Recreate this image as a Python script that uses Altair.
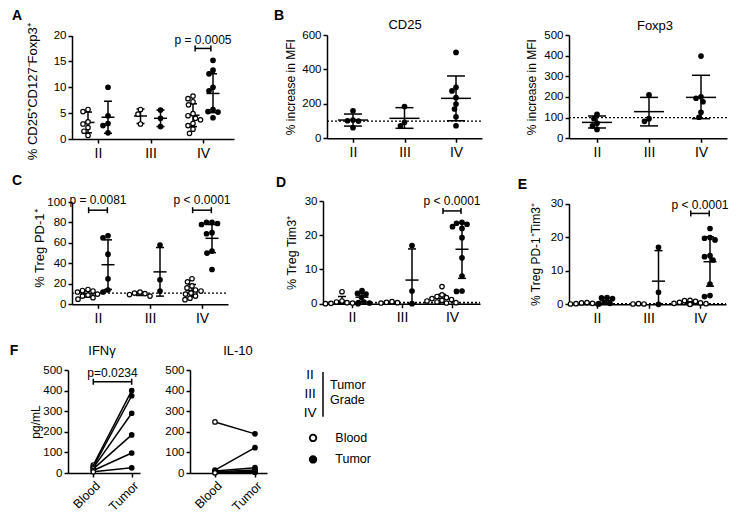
import altair as alt
import pandas as pd

# ---------------- data ----------------
GRADES = ["II", "III", "IV"]

# Panel A: % CD25+CD127-Foxp3+ (Blood open, Tumor filled)
A_BLOOD = [[5.7, 5.3, 3.3, 2.9, 2.2, 1.5, 0.7],
           [5.7, 4.8, 2.9],
           [8.3, 7.8, 7.2, 6.6, 4.9, 4.5, 4.0, 3.7, 3.0, 2.6, 1.9, 1.1]]
A_TUMOR = [[10.0, 4.5, 3.0, 2.6, 1.2],
           [5.6, 4.0, 2.4],
           [15.2, 13.3, 12.6, 10.0, 9.3, 5.7, 5.3, 5.2, 4.1]]
A_BLOOD_MEAN = [3.2, 4.45, 4.6]
A_BLOOD_LO = [1.2, 3.0, 2.4]
A_BLOOD_HI = [5.2, 5.8, 6.8]
A_TUMOR_MEAN = [4.2, 4.0, 8.8]
A_TUMOR_LO = [1.1, 2.4, 5.1]
A_TUMOR_HI = [7.3, 5.6, 12.6]

# Panel B: % increase in MFI
CD25_VALS = [[160, 106, 102, 100, 62], [184, 93, 72],
             [499, 296, 275, 236, 199, 170, 125, 73]]
CD25_MEAN = [106, 116, 232]
CD25_LO = [71, 58, 102]
CD25_HI = [141, 178, 362]
FOXP3_VALS = [[116, 95, 73, 60, 43], [210, 95, 82],
              [398, 201, 194, 177, 126, 102]]
FOXP3_MEAN = [77, 129, 198]
FOXP3_LO = [50, 60, 95]
FOXP3_HI = [108, 198, 305]

# Panel C: % Treg PD-1+
C_BLOOD = [[14.5, 13.5, 13.0, 12.0, 10.0, 9.0, 8.0, 6.5, 5.0],
           [12.0, 11.0, 10.5, 9.5, 8.0],
           [25.0, 22.0, 18.0, 16.0, 14.0, 13.0, 11.0, 10.0, 8.0, 6.0, 4.5]]
C_TUMOR = [[67, 65, 49, 25, 14, 12], [58, 24, 13],
           [80, 80, 79, 78, 70, 69, 52, 50, 34]]
C_BLOOD_MEAN = [10.1, 10.2, 13.4]
C_BLOOD_LO = [7.0, 8.6, 7.4]
C_BLOOD_HI = [13.2, 11.8, 19.4]
C_TUMOR_MEAN = [38.7, 31.7, 64.5]
C_TUMOR_LO = [14.5, 8.0, 50.5]
C_TUMOR_HI = [63.0, 55.5, 78.0]

# Panel D: % Treg Tim3+
D_BLOOD = [[3.5, 0.8, 0.5, 0.3, 0.2, 0.1, 0.0, 0.0], [0.6, 0.4, 0.3, 0.2],
           [5.0, 2.6, 2.1, 1.8, 1.5, 1.2, 1.0, 0.8, 0.5, 0.3, 0.2]]
D_TUMOR = [[3.8, 3.0, 2.8, 1.9, 0.5, 0.3, 0.2], [17.0, 3.7, 0.0],
           [23.8, 23.5, 23.2, 22.5, 22.0, 19.3, 13.4, 8.1, 3.7, 3.6]]
D_BLOOD_MEAN = [0.7, 0.4, 1.5]
D_BLOOD_LO = [0.0, 0.2, 0.3]
D_BLOOD_HI = [2.1, 0.6, 2.7]
D_TUMOR_MEAN = [1.9, 6.9, 15.9]
D_TUMOR_LO = [0.6, 0.0, 7.4]
D_TUMOR_HI = [3.1, 16.0, 23.5]

# Panel E: % Treg PD-1+Tim3+
E_BLOOD = [[0.5, 0.4, 0.3, 0.2, 0.1, 0.1], [0.2, 0.1, 0.1],
           [1.2, 1.1, 0.9, 0.6, 0.4, 0.3, 0.2, 0.1, 0.1, 0.0]]
E_TUMOR = [[2.0, 1.9, 1.7, 0.6, 0.3, 0.2], [17.0, 3.6, 0.0],
           [22.6, 19.9, 19.7, 19.2, 14.5, 14.2, 13.2, 6.0, 2.6, 2.3]]
E_BLOOD_MEAN = [0.27, 0.13, 0.49]
E_BLOOD_LO = [0.1, 0.05, 0.1]
E_BLOOD_HI = [0.44, 0.2, 0.9]
E_TUMOR_MEAN = [1.1, 6.9, 12.7]
E_TUMOR_LO = [0.3, 0.0, 5.4]
E_TUMOR_HI = [1.9, 16.0, 20.1]

# Panel F: pg/mL, paired Blood -> Tumor
IFNG_BLOOD = [38, 30, 25, 20, 12, 6]
IFNG_TUMOR = [400, 375, 290, 185, 97, 25]
IL10_BLOOD = [248, 14, 10, 6, 3, 1]
IL10_TUMOR = [190, 123, 26, 14, 4, 8]

# ---------------- layout ----------------
PAD_TOP, PAD_BOTTOM = 6, 6
PAGE_X, PAGE_Y = 8, 8 + PAD_TOP
W, H = 730, 520 - 16 - PAD_TOP
FONT = "Liberation Sans"
FILL_SCALE = alt.Scale(domain=["Blood", "Tumor"], range=["white", "black"])


def cxp(px):
    return px - PAGE_X


def cyp(py):
    return py - PAGE_Y


GEOM = {
    "A": dict(left=72, right=234, c1=98, c3=203, y0=139, ytop=35.5, ymax=20),
    "CD25": dict(left=327, right=482, c1=353, c3=456, y0=138.3, ytop=35, ymax=600),
    "FOXP3": dict(left=569, right=727, c1=597, c3=701, y0=138.3, ytop=35, ymax=500),
    "C": dict(left=72, right=228, c1=98, c3=202, y0=304.3, ytop=202, ymax=100),
    "D": dict(left=323, right=480, c1=352, c3=452, y0=303.7, ytop=201, ymax=30),
    "E": dict(left=569, right=726, c1=597, c3=700, y0=304.3, ytop=203.7, ymax=30),
}


def swarm(values, ypu, diam=5.2, step=0.5):
    order = sorted(range(len(values)), key=lambda i: -values[i])
    cands = sorted([k * step for k in range(-40, 41)], key=lambda v: (abs(v), v))
    placed, offs = [], [0.0] * len(values)
    for i in order:
        yp = values[i] * ypu
        chosen = 0.0
        for c in cands:
            if all((c - x) ** 2 + (yp - y) ** 2 >= diam ** 2 for x, y in placed):
                chosen = c
                break
        placed.append((chosen, yp))
        offs[i] = chosen
    return offs


def text_layer(df, xs, ys, **kw):
    return alt.Chart(df).mark_text(color="black", **kw).encode(
        x=alt.X("x:Q", scale=xs, axis=None),
        y=alt.Y("y:Q", scale=ys, axis=None),
        text="t:N")


def y_axis(left, y0, ytop, values, title, title_x, title_size=12, title_dy=0):
    return alt.Axis(orient="left", offset=-cxp(left), values=values, title=title,
                    titleX=title_x, titleY=(cyp(y0) + cyp(ytop)) / 2 + title_dy,
                    titleBaseline="bottom", titleAlign="center", titleAngle=270,
                    titleFontSize=title_size, titleLimit=400, format="d")


def scatter_panel(g, series, yticks, ytitle, title_x, title_size=12, title_dy=0,
                  dotted=None, dotted_w=1.3, pvals=(), letter=None, head=None,
                  mean_w=13, cap_w=8, pt_size=20, legend=None):
    unit = (g["c3"] - g["c1"]) / 2.0
    d0 = 1 + (g["left"] - g["c1"]) / unit
    d1 = 1 + (g["right"] - g["c1"]) / unit
    xs = alt.Scale(domain=[d0, d1], range=[cxp(g["left"]), cxp(g["right"])],
                   nice=False, zero=False)
    ys = alt.Scale(domain=[0, g["ymax"]], range=[cyp(g["y0"]), cyp(g["ytop"])],
                   nice=False, zero=False)
    ypu = (g["y0"] - g["ytop"]) / g["ymax"]

    def px2x(px):
        return 1 + (px - g["c1"]) / unit

    def py2y(py):
        return (g["y0"] - py) / ypu

    pts, bars, caps = [], [], []
    for typ, shift, vals, mean, lo, hi in series:
        for gi in range(3):
            c = gi + 1 + shift / unit
            offs = swarm(vals[gi], ypu)
            for v, o in zip(vals[gi], offs):
                pts.append({"x": c + o / unit, "y": v, "type": typ})
            bars.append({"x": c, "mean": mean[gi], "lo": lo[gi], "hi": hi[gi]})
            caps.append({"x": c, "v": lo[gi]})
            caps.append({"x": c, "v": hi[gi]})
    pts, bars, caps = pd.DataFrame(pts), pd.DataFrame(bars), pd.DataFrame(caps)

    xaxis = alt.Axis(orient="bottom", offset=cyp(g["y0"]) - H, values=[1, 2, 3],
                     labelExpr="datum.value == 1 ? 'II' : datum.value == 2 ? 'III' : 'IV'",
                     labelFontSize=14, labelPadding=3, title=None)
    yaxis = y_axis(g["left"], g["y0"], g["ytop"], yticks, ytitle, title_x,
                   title_size, title_dy)
    layers = [
        alt.Chart(bars).mark_rule(color="black", strokeWidth=1.5).encode(
            x=alt.X("x:Q", scale=xs, axis=xaxis),
            y=alt.Y("lo:Q", scale=ys, axis=yaxis),
            y2="hi:Q"),
        alt.Chart(caps).mark_tick(orient="horizontal", size=cap_w, thickness=1.5,
                                  color="black", opacity=1).encode(
            x=alt.X("x:Q", scale=xs, axis=None), y=alt.Y("v:Q", scale=ys, axis=None)),
        alt.Chart(bars).mark_tick(orient="horizontal", size=mean_w, thickness=1.5,
                                  color="black", opacity=1).encode(
            x=alt.X("x:Q", scale=xs, axis=None), y=alt.Y("mean:Q", scale=ys, axis=None)),
    ]
    if dotted is not None:
        dd = pd.DataFrame([{"x": d0, "x2": d1, "y": dotted}])
        layers.append(alt.Chart(dd).mark_rule(color="black", strokeWidth=dotted_w,
                                              strokeDash=[2, 2]).encode(
            x=alt.X("x:Q", scale=xs, axis=None), x2="x2:Q",
            y=alt.Y("y:Q", scale=ys, axis=None)))
    layers.append(alt.Chart(pts).mark_point(filled=True, size=pt_size, stroke="black",
                                            strokeWidth=1.2, opacity=1).encode(
        x=alt.X("x:Q", scale=xs, axis=None),
        y=alt.Y("y:Q", scale=ys, axis=None),
        fill=alt.Fill("type:N", scale=FILL_SCALE, legend=legend)))
    for txt, gi, half, yb, yt in pvals:
        c = gi + 1
        br = pd.DataFrame([{"x": c - half, "x2": c + half, "y": yb}])
        ends = pd.DataFrame([{"x": c - half, "y": yb}, {"x": c + half, "y": yb}])
        layers.append(alt.Chart(br).mark_rule(color="black", strokeWidth=1.5).encode(
            x=alt.X("x:Q", scale=xs, axis=None), x2="x2:Q",
            y=alt.Y("y:Q", scale=ys, axis=None)))
        layers.append(alt.Chart(ends).mark_tick(orient="vertical", size=6, thickness=1.5,
                                                color="black", opacity=1).encode(
            x=alt.X("x:Q", scale=xs, axis=None), y=alt.Y("y:Q", scale=ys, axis=None)))
        layers.append(text_layer(pd.DataFrame([{"x": c, "y": yt, "t": txt}]), xs, ys,
                                 fontSize=12, align="center", baseline="middle"))
    if letter is not None:
        t, px, py = letter
        layers.append(text_layer(pd.DataFrame([{"x": px2x(px), "y": py2y(py), "t": t}]),
                                 xs, ys, fontSize=14, fontWeight="bold",
                                 align="center", baseline="middle"))
    if head is not None:
        t, px, py = head
        layers.append(text_layer(pd.DataFrame([{"x": px2x(px), "y": py2y(py), "t": t}]),
                                 xs, ys, fontSize=13, align="center", baseline="middle"))
    return layers


def paired_panel(g, blood, tumor, ytitle=None, title_x=-26, pval=None, letter=None,
                 head=None):
    unit = g["xt"] - g["xb"]
    d0 = (g["left"] - g["xb"]) / unit
    d1 = (g["right"] - g["xb"]) / unit
    xs = alt.Scale(domain=[d0, d1], range=[cxp(g["left"]), cxp(g["right"])],
                   nice=False, zero=False)
    ys = alt.Scale(domain=[0, g["ymax"]], range=[cyp(g["y0"]), cyp(g["ytop"])],
                   nice=False, zero=False)
    ypu = (g["y0"] - g["ytop"]) / g["ymax"]

    def px2x(px):
        return (px - g["xb"]) / unit

    def py2y(py):
        return (g["y0"] - py) / ypu

    rows = []
    for i, (b, t) in enumerate(zip(blood, tumor)):
        rows.append({"pair": i, "x": 0, "y": b, "type": "Blood"})
        rows.append({"pair": i, "x": 1, "y": t, "type": "Tumor"})
    df = pd.DataFrame(rows)
    xaxis = alt.Axis(orient="bottom", offset=cyp(g["y0"]) - H, values=[0, 1],
                     labelExpr="datum.value == 0 ? 'Blood' : 'Tumor'",
                     labelAngle=315, labelAlign="right", labelBaseline="top",
                     labelFontSize=12.5, labelPadding=2, title=None)
    yaxis = y_axis(g["left"], g["y0"], g["ytop"], [0, 100, 200, 300, 400, 500],
                   ytitle, title_x)
    layers = [
        alt.Chart(df).mark_line(color="black", strokeWidth=1.5).encode(
            x=alt.X("x:Q", scale=xs, axis=xaxis),
            y=alt.Y("y:Q", scale=ys, axis=yaxis),
            detail="pair:N"),
        alt.Chart(df).mark_point(filled=True, size=20, stroke="black", strokeWidth=1.2,
                                 opacity=1).encode(
            x=alt.X("x:Q", scale=xs, axis=None),
            y=alt.Y("y:Q", scale=ys, axis=None),
            fill=alt.Fill("type:N", scale=FILL_SCALE, legend=None)),
    ]
    if pval is not None:
        txt, yb, yt = pval
        br = pd.DataFrame([{"x": 0, "x2": 1, "y": yb}])
        ends = pd.DataFrame([{"x": 0, "y": yb}, {"x": 1, "y": yb}])
        layers.append(alt.Chart(br).mark_rule(color="black", strokeWidth=1.5).encode(
            x=alt.X("x:Q", scale=xs, axis=None), x2="x2:Q",
            y=alt.Y("y:Q", scale=ys, axis=None)))
        layers.append(alt.Chart(ends).mark_tick(orient="vertical", size=6, thickness=1.5,
                                                color="black", opacity=1).encode(
            x=alt.X("x:Q", scale=xs, axis=None), y=alt.Y("y:Q", scale=ys, axis=None)))
        layers.append(text_layer(pd.DataFrame([{"x": 0.5, "y": yt, "t": txt}]), xs, ys,
                                 fontSize=12, align="center", baseline="middle"))
    if letter is not None:
        t, px, py = letter
        layers.append(text_layer(pd.DataFrame([{"x": px2x(px), "y": py2y(py), "t": t}]),
                                 xs, ys, fontSize=14, fontWeight="bold",
                                 align="center", baseline="middle"))
    if head is not None:
        t, px, py = head
        layers.append(text_layer(pd.DataFrame([{"x": px2x(px), "y": py2y(py), "t": t}]),
                                 xs, ys, fontSize=13, align="center", baseline="middle"))
    return layers


LEGEND = alt.Legend(title=None, orient="none", legendX=cxp(306.8), legendY=cyp(431.7),
                    symbolType="circle", symbolSize=42, symbolStrokeColor="black",
                    symbolStrokeWidth=1.8, symbolOpacity=1, labelFontSize=12.5,
                    labelColor="black", labelOffset=16, rowPadding=6.5, padding=0)

panel_A = scatter_panel(
    GEOM["A"],
    [("Blood", -10, A_BLOOD, A_BLOOD_MEAN, A_BLOOD_LO, A_BLOOD_HI),
     ("Tumor", 10, A_TUMOR, A_TUMOR_MEAN, A_TUMOR_LO, A_TUMOR_HI)],
    [0, 5, 10, 15, 20], "% CD25⁺CD127⁻Foxp3⁺", -33, title_size=13, title_dy=4,
    pvals=[("p = 0.0005", 2, 0.15, 17.5, 19.2)], letter=("A", 17, 15.5), legend=LEGEND)

panel_CD25 = scatter_panel(
    GEOM["CD25"], [("Tumor", 0, CD25_VALS, CD25_MEAN, CD25_LO, CD25_HI)],
    [0, 200, 400, 600], "% increase in MFI", -30, dotted=100, mean_w=30, cap_w=18,
    letter=("B", 279, 15.5), head=("CD25", 405, 25))

panel_FOXP3 = scatter_panel(
    GEOM["FOXP3"], [("Tumor", 0, FOXP3_VALS, FOXP3_MEAN, FOXP3_LO, FOXP3_HI)],
    [0, 100, 200, 300, 400, 500], "% increase in MFI", -31, dotted=100, mean_w=30,
    cap_w=18, head=("Foxp3", 655, 25.5))

panel_C = scatter_panel(
    GEOM["C"],
    [("Blood", -10, C_BLOOD, C_BLOOD_MEAN, C_BLOOD_LO, C_BLOOD_HI),
     ("Tumor", 10, C_TUMOR, C_TUMOR_MEAN, C_TUMOR_LO, C_TUMOR_HI)],
    [0, 20, 40, 60, 80, 100], "% Treg PD-1⁺", -26, title_size=13, title_dy=-5,
    dotted=11,
    pvals=[("p = 0.0081", 0, 0.18, 92, 101.5), ("p < 0.0001", 2, 0.18, 92, 101.5)],
    letter=("C", 17, 181))

panel_D = scatter_panel(
    GEOM["D"],
    [("Blood", -10, D_BLOOD, D_BLOOD_MEAN, D_BLOOD_LO, D_BLOOD_HI),
     ("Tumor", 10, D_TUMOR, D_TUMOR_MEAN, D_TUMOR_LO, D_TUMOR_HI)],
    [0, 10, 20, 30], "% Treg Tim3⁺", -25, title_size=12.5, dotted=0.3, dotted_w=1.8,
    pvals=[("p < 0.0001", 2, 0.18, 27.1, 30.0)], letter=("D", 281, 183))

panel_E = scatter_panel(
    GEOM["E"],
    [("Blood", -10, E_BLOOD, E_BLOOD_MEAN, E_BLOOD_LO, E_BLOOD_HI),
     ("Tumor", 10, E_TUMOR, E_TUMOR_MEAN, E_TUMOR_LO, E_TUMOR_HI)],
    [0, 10, 20, 30], "% Treg PD-1⁺Tim3⁺", -27, dotted=0.2, dotted_w=1.5,
    pvals=[("p < 0.0001", 2, 0.18, 27.1, 29.6)], letter=("E", 522.5, 185))

panel_IFN = paired_panel(
    dict(left=68, right=140, xb=93.3, xt=131.7, y0=473, ytop=370, ymax=500),
    IFNG_BLOOD, IFNG_TUMOR, ytitle="pg/mL", title_x=-26,
    pval=("p=0.0234", 443, 485), letter=("F", 14, 351), head=("IFNγ", 102, 351))

panel_IL10 = paired_panel(
    dict(left=190, right=267, xb=215, xt=255, y0=473, ytop=370, ymax=500),
    IL10_BLOOD, IL10_TUMOR, ytitle=None, head=("IL-10", 238, 351))

# Tumor grade key
gx = alt.Scale(domain=[0, 1], range=[cxp(310), cxp(330)], nice=False, zero=False)
gy = alt.Scale(domain=[0, 2], range=[cyp(375), cyp(413)], nice=False, zero=False)
grade_txt = pd.DataFrame([{"x": 0, "y": i, "t": g} for i, g in enumerate(GRADES)])
grade_word = pd.DataFrame([{"x": 1, "y": 0.53, "t": "Tumor"}, {"x": 1, "y": 1.32, "t": "Grade"}])
grade_bar = pd.DataFrame([{"x": 0.65, "y": -0.16, "y2": 2.2}])
panel_key = [
    text_layer(grade_txt, gx, gy, fontSize=13.5, align="center", baseline="middle"),
    text_layer(grade_word, gx, gy, fontSize=12.5, align="left", baseline="middle"),
    alt.Chart(grade_bar).mark_rule(color="black", strokeWidth=1.5).encode(
        x=alt.X("x:Q", scale=gx, axis=None),
        y=alt.Y("y:Q", scale=gy, axis=None), y2="y2:Q"),
]

all_layers = (panel_A + panel_CD25 + panel_FOXP3 + panel_C + panel_D + panel_E
              + panel_IFN + panel_IL10 + panel_key)

chart = alt.layer(*all_layers).resolve_scale(
    x="independent", y="independent"
).properties(
    width=W, height=H,
    padding={"left": 0, "top": PAD_TOP, "right": 0, "bottom": PAD_BOTTOM},
    autosize=alt.AutoSizeParams(type="none"),
).configure(font=FONT).configure_view(stroke=None).configure_axis(
    domainColor="black", domainWidth=1.5, tickColor="black", tickWidth=1.5,
    tickSize=4, labelColor="black", labelFontSize=11.5, labelPadding=2,
    titleColor="black", titleFontWeight="normal", titleFontSize=12, grid=False,
    labelFlush=False, labelOverlap=False,
)

chart.save("out.html", embed_options={"renderer": "svg", "actions": False})
